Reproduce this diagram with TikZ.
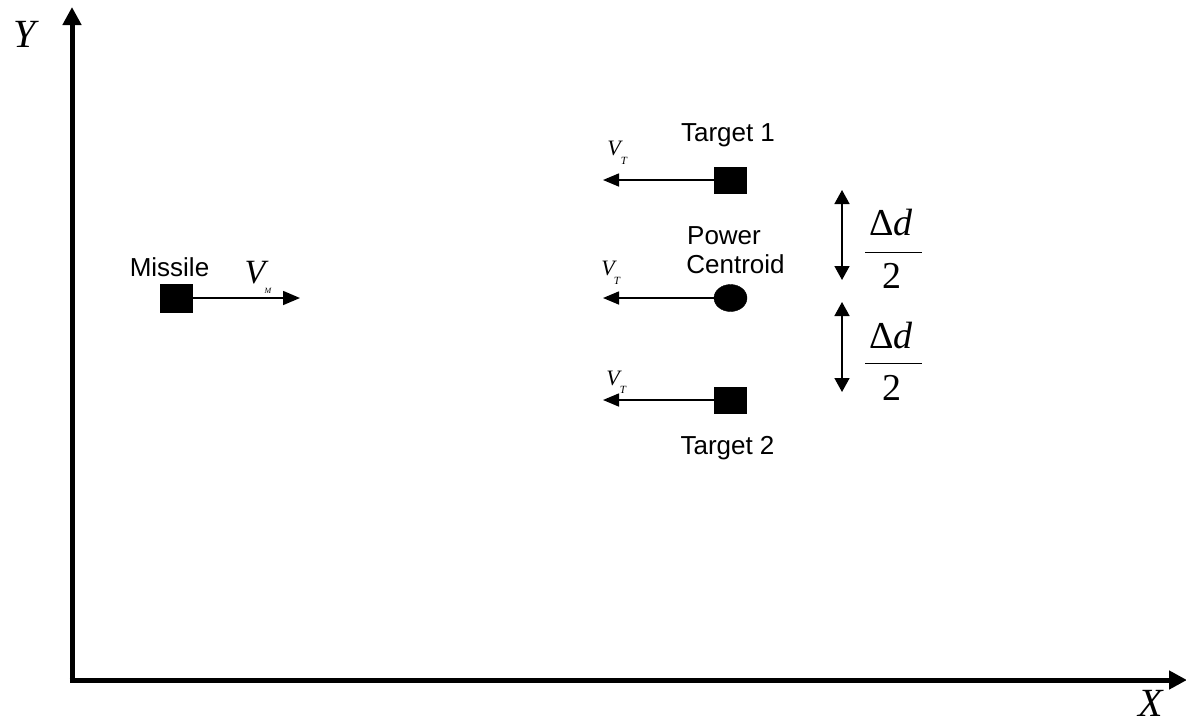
\documentclass[tikz,border=0pt]{standalone}
\usepackage{fontspec}
\setmainfont{Liberation Serif}
\newfontfamily\arialf{Liberation Sans}
\usetikzlibrary{arrows.meta,shapes.geometric}
\begin{document}
\begin{tikzpicture}[x=1pt,y=-1pt,
  axis/.style={line width=5pt,-{Triangle[length=18pt,width=18pt]}},
  vel/.style={line width=1.6pt,-{Triangle[length=16pt,width=13pt]}},
  dbl/.style={line width=1.6pt,{Triangle[length=14pt,width=15pt]}-{Triangle[length=14pt,width=15pt]}},
  blk/.style={fill=black,draw=black,inner sep=0pt,minimum width=32pt,minimum height=26pt},
  lbl/.style={font=\arialf\fontsize{26}{30}\selectfont,inner sep=0pt,anchor=base},
  bigit/.style={font=\fontsize{40}{40}\selectfont\itshape,inner sep=0pt,anchor=base},
  vv/.style={font=\fontsize{22}{22}\selectfont\itshape,inner sep=0pt,anchor=base},
  sub/.style={font=\fontsize{11}{11}\selectfont\itshape,inner sep=0pt,anchor=base},
  frac/.style={font=\fontsize{38}{38}\selectfont,inner sep=0pt,anchor=base}]
\useasboundingbox (0,0) rectangle (1186,724);
% axes
\coordinate (O) at (72,680);
\coordinate (Ytip) at (72,7);
\coordinate (Xtip) at (1187,680);
\draw[axis] ([yshift=2.5pt]O) -- (Ytip);
\draw[axis] ([xshift=-2.5pt]O) -- (Xtip);
\node[bigit] (Ylab) at (25,47) {Y};
\node[bigit] (Xlab) at (1151,716) {X};
% missile
\node[blk,minimum height=28pt] (mis) at (176,298) {};
\coordinate (mtip) at (300,298);
\draw[vel,-{Triangle[length=17pt,width=14pt]}] (mis.east) -- (mtip);
\node[lbl] (mislab) at (169.5,276) {Missile};
\node[vv,font=\fontsize{34}{34}\selectfont\itshape] (VM) at (255,283) {V};
\node[sub,font=\fontsize{8}{8}\selectfont\itshape] (VMs) at (268,293) {M};
% target 1
\node[blk] (t1) at (730,180) {};
\coordinate (t1tip) at (603,180);
\draw[vel] (t1.west) -- (t1tip);
\node[lbl] (t1lab) at (728,141) {Target 1};
\node[vv] (VT1) at (614,155) {V};
\node[sub] (VT1s) at (624,164) {T};
% power centroid
\node[ellipse,fill=black,draw=black,inner sep=0pt,minimum width=33pt,minimum height=27pt] (pc) at (730.5,298) {};
\coordinate (pctip) at (603,298);
\draw[vel] (pc.west) -- (pctip);
\node[lbl] (pclab1) at (724,244) {Power};
\node[lbl] (pclab2) at (735.5,273) {Centroid};
\node[vv] (VT2) at (608,275) {V};
\node[sub] (VT2s) at (617,284) {T};
% target 2
\node[blk] (t2) at (730,400) {};
\coordinate (t2tip) at (603,400);
\draw[vel] (t2.west) -- (t2tip);
\node[lbl] (t2lab) at (727.5,454) {Target 2};
\node[vv] (VT3) at (613,385) {V};
\node[sub] (VT3s) at (623,393) {T};
% double arrows
\coordinate (d1a) at (842,190);
\coordinate (d1b) at (842,280);
\coordinate (d2a) at (842,302);
\coordinate (d2b) at (842,392);
\draw[dbl] (d1a) -- (d1b);
\draw[dbl] (d2a) -- (d2b);
% fractions
\node[frac] (n1) at (891,235) {Δ\textit{d}};
\coordinate (f1a) at (865,252);
\coordinate (f1b) at (922,252);
\draw[line width=1pt] (f1a) -- (f1b);
\node[frac] (den1) at (892,288) {2};
\node[frac] (n2) at (891,348) {Δ\textit{d}};
\coordinate (f2a) at (865,363);
\coordinate (f2b) at (922,363);
\draw[line width=1pt] (f2a) -- (f2b);
\node[frac] (den2) at (892,400) {2};
\end{tikzpicture}
\end{document}
